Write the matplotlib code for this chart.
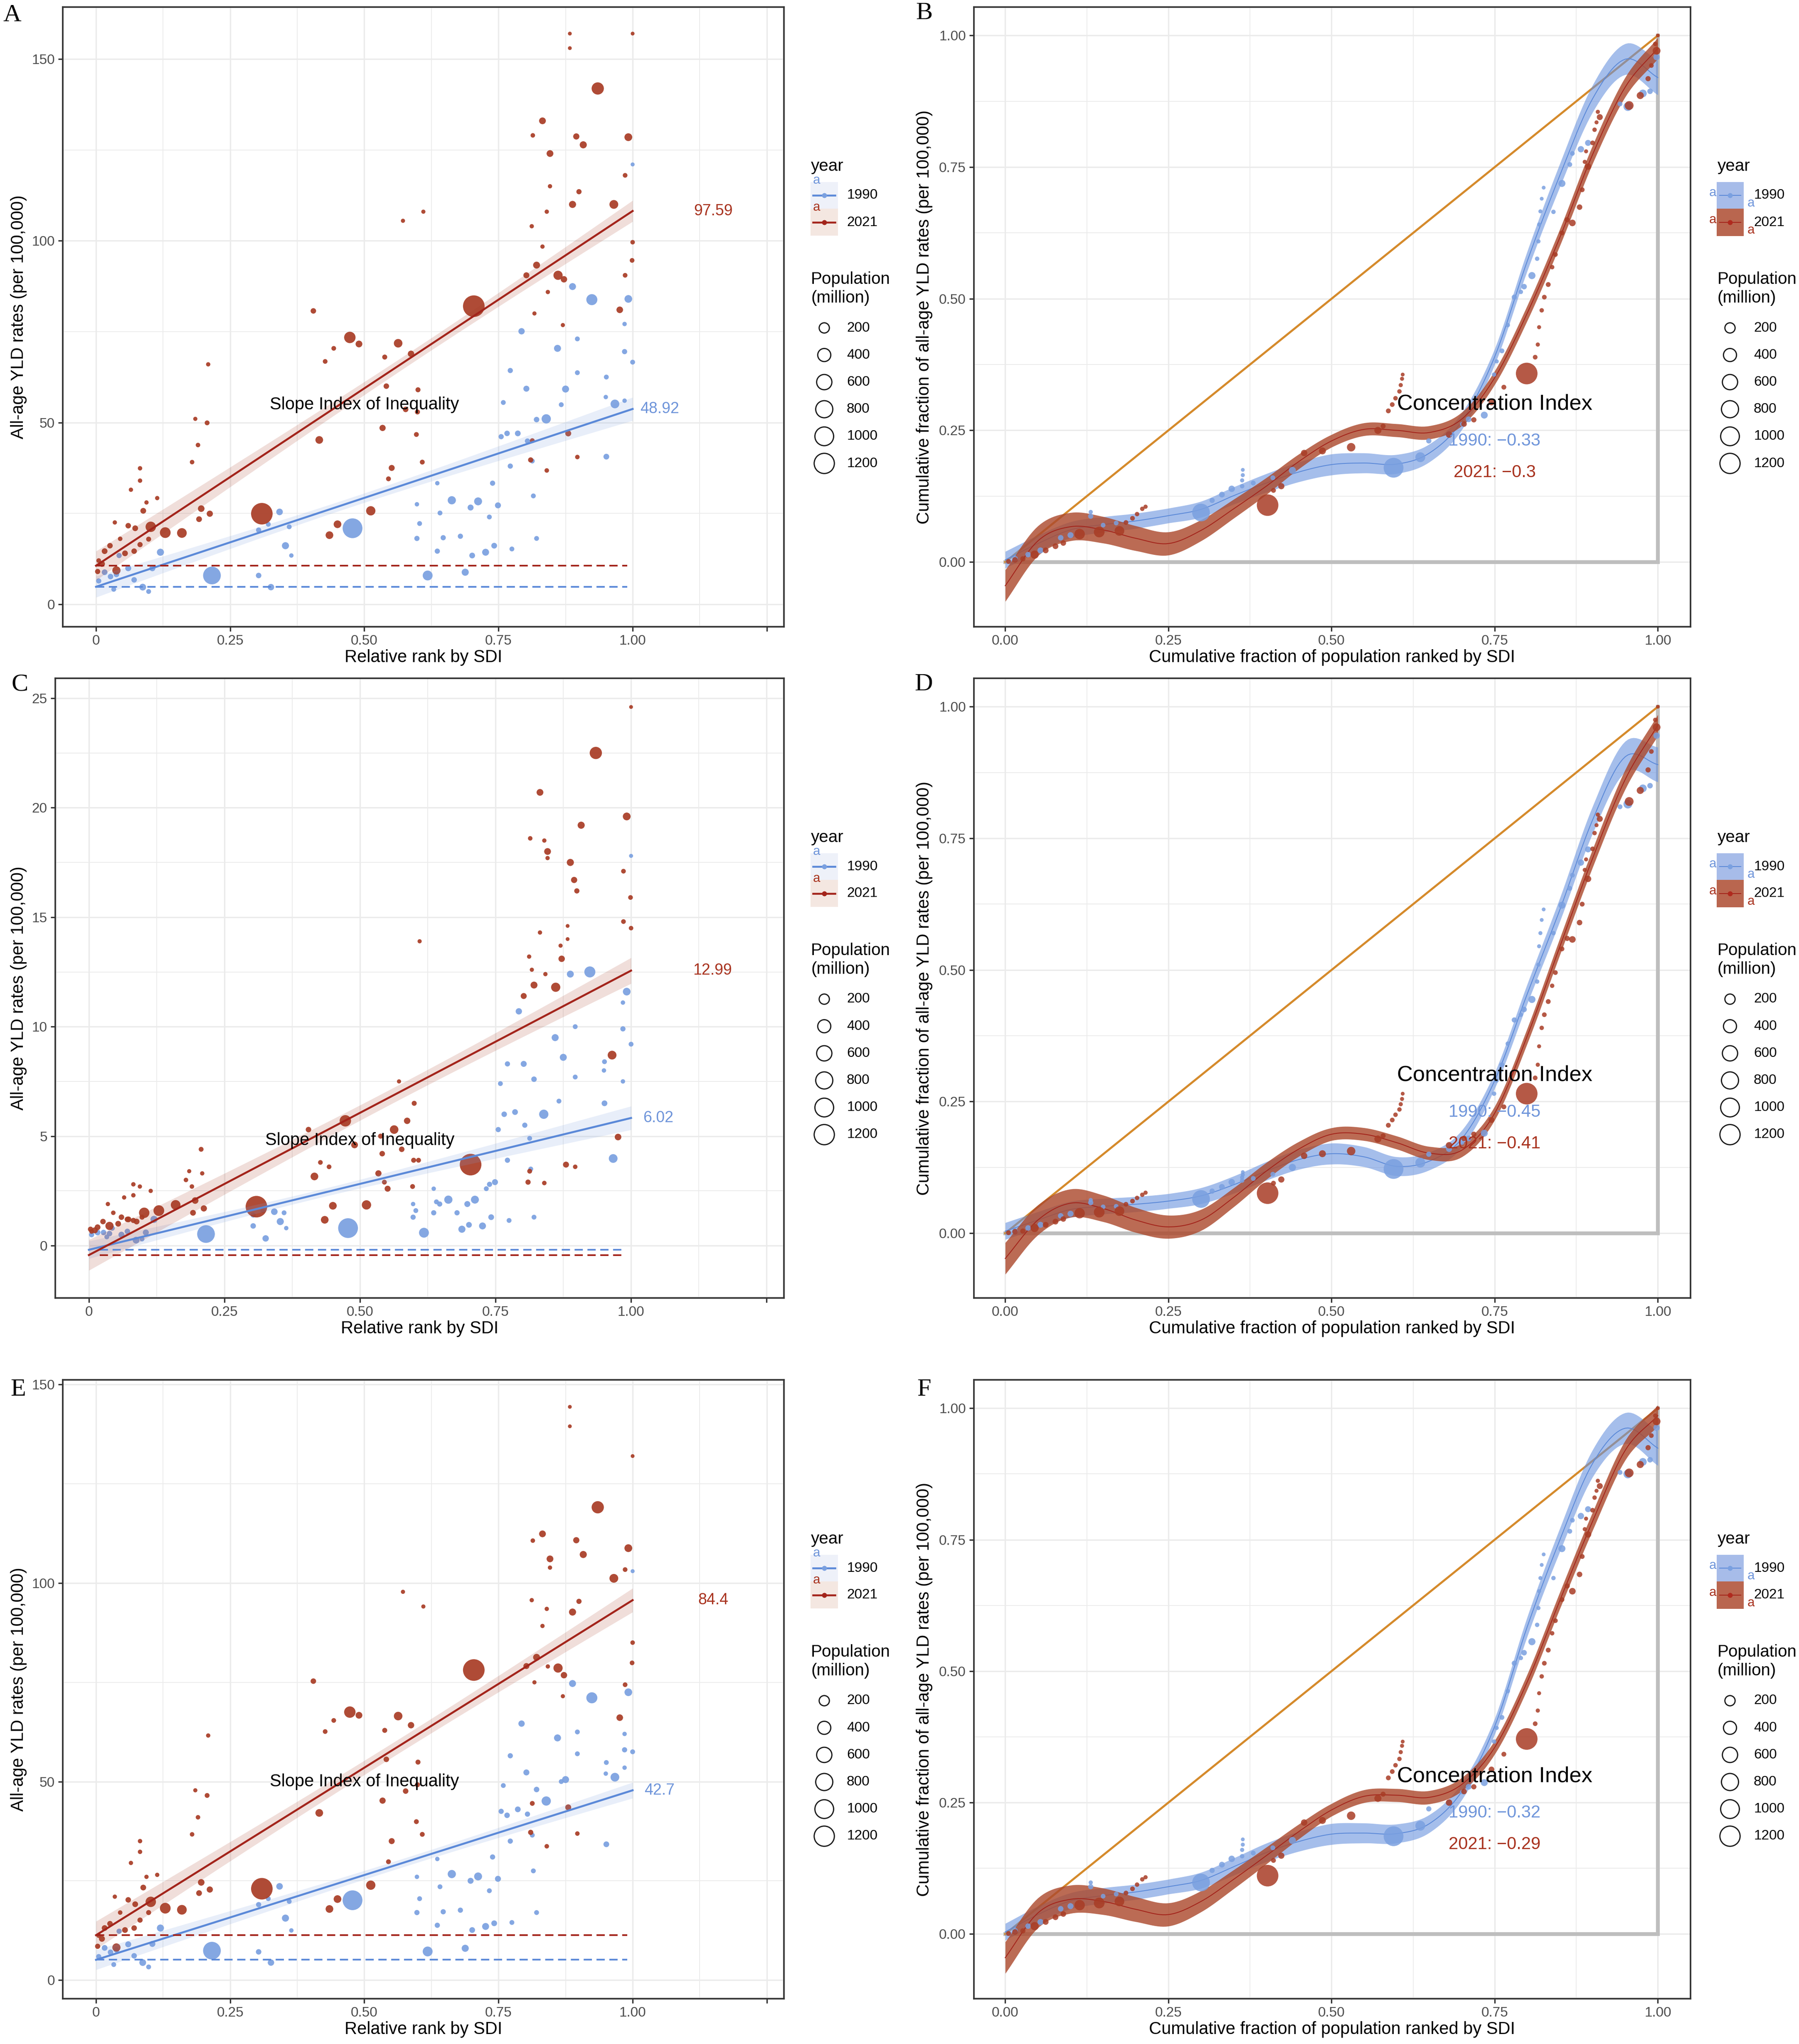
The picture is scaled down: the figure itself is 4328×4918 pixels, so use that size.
#-*- coding: utf-8 -*-
# Slope index (A, C, E) and concentration curves (B, D, F), 1990 vs 2021
import numpy as np
import matplotlib
matplotlib.use('Agg')
import matplotlib.pyplot as plt
from matplotlib.patches import Rectangle

plt.rcParams['font.family'] = ['Liberation Sans', 'DejaVu Sans']

W, H, DPI = 4328, 4918, 300

######################## DADOS ########################
# --- slope index: pontos de 1990 (rank, pop, taxa em A, C, E)
rk90 = [0.478, 0.216, 0.924, 0.992, 0.967, 0.839, 0.888, 0.860, 0.875, 0.793,
        0.802, 0.951, 0.618, 0.688, 0.663, 0.712, 0.726, 0.698, 0.749, 0.742,
        0.701, 0.353, 0.342, 0.326, 0.303, 0.303, 0.321, 0.360, 0.120, 0.087,
        0.105, 0.060, 0.071, 0.038, 0.043, 0.027, 0.016, 0.005, 0.033, 0.098,
        0.786, 0.766, 0.759, 0.772, 0.821, 0.813, 0.815, 0.821, 0.739, 0.772,
        0.755, 0.804, 0.897, 0.897, 0.867, 0.985, 1.000, 0.951, 1.000, 0.985,
        0.598, 0.636, 0.647, 0.641, 0.636, 0.679, 0.603, 0.598, 0.775, 0.364,
        0.733, 0.985, 0.950]
pop90 = [1140, 870, 250, 80, 123, 148, 55, 57, 57, 38,
         30, 25, 180, 60, 100, 90, 55, 30, 30, 25,
         25, 60, 45, 40, 20, 15, 10, 10, 60, 50,
         30, 30, 20, 20, 15, 20, 25, 15, 10, 10,
         25, 20, 10, 15, 20, 10, 10, 10, 15, 15,
         15, 15, 10, 10, 10, 15, 10, 10, 2, 5,
         15, 15, 15, 10, 5, 15, 10, 5, 10, 5,
         10, 5, 5]
yA90 = [20.9, 7.9, 83.8, 84.0, 55.1, 51.0, 87.4, 70.4, 59.2, 75.1,
        59.3, 40.6, 7.9, 8.8, 28.6, 28.3, 14.3, 26.6, 27.2, 16.1,
        13.4, 16.1, 25.4, 4.7, 7.9, 20.4, 22.0, 21.3, 14.3, 4.7,
        9.9, 9.9, 6.7, 8.2, 13.4, 7.6, 8.8, 6.4, 4.1, 3.5,
        47.0, 47.0, 55.5, 64.3, 50.8, 39.4, 29.8, 18.1, 33.3, 38.0,
        46.1, 44.9, 63.7, 73.0, 54.9, 69.5, 66.6, 62.5, 121.0, 77.1,
        18.1, 14.6, 18.3, 25.1, 33.3, 18.7, 22.2, 27.5, 15.2, 13.4,
        24.0, 56.0, 57.0]
yC90 = [0.80, 0.53, 12.5, 11.6, 3.98, 6.0, 12.4, 9.5, 8.6, 10.7,
        8.3, 6.5, 0.59, 0.75, 2.1, 2.1, 0.9, 1.9, 2.9, 1.3,
        0.95, 1.1, 1.55, 0.33, 0.9, 1.4, 1.6, 1.5, 1.2, 0.25,
        0.6, 0.5, 0.65, 0.55, 0.8, 0.6, 0.6, 0.5, 0.4, 0.3,
        6.1, 6.0, 7.4, 8.3, 7.6, 4.9, 3.5, 1.3, 2.8, 3.9,
        5.3, 5.5, 7.7, 10.0, 6.6, 9.9, 9.2, 8.4, 17.8, 11.1,
        1.3, 1.5, 1.9, 2.0, 2.6, 1.5, 1.6, 1.9, 1.15, 0.8,
        2.6, 7.5, 8.0]
yE90 = [20.1, 7.4, 71.1, 72.5, 51.1, 45.1, 74.7, 61.0, 50.5, 64.6,
        52.3, 34.2, 7.2, 8.0, 26.7, 26.1, 13.5, 25.0, 25.5, 14.3,
        12.6, 15.6, 23.6, 4.4, 7.1, 19.0, 20.5, 19.8, 13.1, 4.4,
        9.1, 9.0, 6.1, 7.6, 12.3, 7.0, 8.1, 5.9, 3.9, 3.3,
        43.0, 41.5, 49.0, 56.5, 48.0, 36.5, 27.5, 17.0, 31.0, 35.0,
        42.5, 41.8, 57.0, 62.5, 50.0, 58.0, 57.5, 54.8, 103.0, 62.0,
        17.0, 13.8, 17.2, 23.5, 30.5, 17.6, 20.5, 26.0, 14.5, 12.5,
        22.5, 53.5, 52.0]

# --- slope index: pontos de 2021
rk21 = [0.935, 0.704, 0.309, 0.473, 0.490, 0.563, 0.587, 0.965, 0.992, 0.861,
        0.802, 0.821, 0.832, 0.846, 0.895, 0.908, 0.888, 0.900, 0.872, 0.880,
        0.976, 0.986, 1.000, 0.999, 0.986, 0.883, 0.883, 1.000, 0.416, 0.534,
        0.541, 0.435, 0.450, 0.512, 0.551, 0.545, 0.577, 0.599, 0.600, 0.597,
        0.608, 0.572, 0.610, 0.405, 0.427, 0.443, 0.538, 0.160, 0.129, 0.102,
        0.196, 0.212, 0.192, 0.207, 0.209, 0.179, 0.190, 0.185, 0.082, 0.082,
        0.114, 0.065, 0.088, 0.073, 0.060, 0.038, 0.011, 0.016, 0.026, 0.054,
        0.071, 0.082, 0.098, 0.810, 0.813, 0.897, 0.840, 0.814, 0.846, 0.840,
        0.812, 0.832, 0.842, 0.817, 0.870, 0.003, 0.005, 0.045, 0.035, 0.094]
pop21 = [335, 1410, 1400, 275, 50, 115, 40, 125, 84, 145,
         30, 55, 50, 50, 35, 60, 60, 15, 40, 30,
         45, 8, 6, 8, 8, 1, 1, 1, 80, 35,
         20, 80, 80, 150, 30, 10, 20, 12, 12, 10,
         10, 3, 3, 20, 8, 8, 12, 170, 230, 210,
         45, 35, 25, 10, 4, 6, 6, 3, 5, 5,
         4, 4, 25, 25, 20, 100, 30, 25, 20, 25,
         20, 15, 12, 15, 10, 6, 6, 6, 4, 4,
         4, 4, 4, 3, 3, 15, 8, 6, 4, 4]
yA21 = [141.9, 82.0, 24.9, 73.4, 71.6, 71.8, 68.9, 110.0, 128.5, 90.5,
        90.5, 93.3, 133.0, 124.0, 128.7, 126.4, 110.0, 113.5, 89.4, 47.0,
        81.0, 118.0, 99.6, 94.6, 90.5, 157.0, 153.0, 157.0, 45.2, 48.5,
        60.0, 19.0, 22.0, 25.7, 37.5, 34.5, 53.6, 52.9, 59.0, 46.7,
        39.1, 105.5, 108.0, 80.7, 66.8, 70.4, 68.0, 19.6, 19.7, 21.3,
        26.3, 24.9, 23.4, 49.9, 66.0, 39.1, 43.8, 51.0, 37.4, 34.0,
        29.2, 31.5, 25.7, 20.9, 21.6, 9.3, 11.1, 14.6, 16.1, 14.0,
        14.6, 16.4, 17.9, 39.7, 45.0, 40.5, 36.8, 129.0, 115.0, 108.0,
        104.0, 98.4, 85.9, 80.0, 76.8, 9.0, 12.0, 18.0, 22.5, 28.0]
yC21 = [22.5, 3.7, 1.78, 5.7, 4.6, 5.3, 5.7, 8.7, 19.6, 11.8,
        11.4, 11.9, 20.7, 18.0, 16.7, 19.2, 17.5, 16.2, 13.1, 3.7,
        4.96, 17.1, 14.5, 15.9, 14.8, 14.6, 14.0, 24.6, 3.16, 3.3,
        4.2, 1.18, 1.82, 1.86, 2.6, 2.9, 4.4, 3.9, 6.5, 2.7,
        3.9, 7.5, 13.9, 5.3, 3.8, 3.6, 5.0, 1.86, 1.6, 1.5,
        2.06, 1.7, 1.5, 4.4, 3.3, 3.0, 2.7, 3.4, 2.3, 2.8,
        2.5, 2.2, 1.1, 1.2, 1.3, 0.9, 0.7, 0.84, 1.1, 1.0,
        1.2, 1.15, 1.3, 2.9, 3.4, 3.6, 2.86, 18.6, 17.7, 18.5,
        13.2, 14.3, 12.4, 12.6, 13.7, 0.75, 0.65, 1.5, 1.9, 2.7]
yE21 = [119.1, 78.1, 23.0, 67.5, 66.7, 66.5, 64.2, 101.2, 108.8, 78.6,
        79.1, 81.3, 112.4, 106.1, 110.8, 107.2, 92.7, 95.4, 76.8, 43.5,
        66.1, 103.4, 85.0, 79.9, 74.4, 144.4, 139.5, 132.0, 42.1, 45.2,
        55.6, 17.9, 20.4, 23.9, 35.0, 29.8, 47.6, 49.2, 54.9, 39.9,
        36.7, 97.8, 94.1, 75.3, 62.6, 65.4, 62.9, 17.7, 18.1, 19.7,
        24.6, 22.8, 21.9, 46.5, 61.6, 36.7, 41.0, 47.8, 35.0, 32.3,
        26.5, 29.5, 23.3, 19.1, 20.2, 8.2, 10.4, 13.1, 14.2, 12.6,
        13.1, 15.1, 17.0, 37.2, 44.5, 36.9, 33.7, 110.7, 103.9, 93.5,
        95.7, 89.2, 79.0, 75.0, 71.5, 8.5, 11.2, 17.0, 21.0, 26.0]

# regressao (intercepto, SII) e meia largura do IC em x = 0, 0.5, 1
fitA = {'1990': (4.8, 48.92), '2021': (10.6, 97.59)}
fitC = {'1990': (-0.19, 6.02), '2021': (-0.43, 12.99)}
fitE = {'1990': (5.1, 42.7), '2021': (11.3, 84.4)}
hwA = {'1990': (2.9, 1.3, 3.2), '2021': (4.0, 1.8, 2.9)}
hwC = {'1990': (0.40, 0.20, 0.54), '2021': (0.70, 0.35, 0.59)}
hwE = {'1990': (2.5, 1.1, 2.0), '2021': (3.5, 1.8, 3.0)}

# --- curvas de concentracao: pontos (fracao acumulada pop, fracao acumulada YLD)
cx21 = [0.799, 0.402, 0.530, 0.571, 0.486, 0.458, 0.423, 0.411, 0.869, 0.956,
        0.973, 0.998, 0.911, 0.893, 0.880, 0.175, 0.144, 0.114, 0.045, 0.680,
        0.703, 0.718, 0.745, 0.764, 0.579, 0.587, 0.593, 0.598, 0.604, 0.606,
        0.608, 0.609, 0.812, 0.816, 0.818, 0.822, 0.826, 0.832, 0.838, 0.843,
        0.853, 0.861, 0.884, 0.900, 0.903, 0.985, 0.990, 0.996, 1.000, 0.015,
        0.027, 0.062, 0.077, 0.089, 0.185, 0.195, 0.202, 0.210, 0.215, 0.005,
        0.888, 0.890, 0.906, 0.908]
cp21 = [1410, 1400, 110, 60, 55, 40, 35, 10, 45, 125,
        60, 84, 30, 40, 20, 170, 230, 210, 100, 40,
        20, 15, 25, 10, 12, 10, 8, 6, 5, 3,
        2, 1, 8, 3, 2, 5, 8, 10, 5, 8,
        10, 15, 10, 8, 5, 15, 8, 5, 1, 20,
        15, 25, 25, 20, 8, 8, 5, 5, 3, 10,
        3, 2, 2, 3]
ciB21 = [0.358, 0.108, 0.218, 0.250, 0.211, 0.207, 0.144, 0.136, 0.644, 0.867,
         0.886, 0.971, 0.845, 0.751, 0.674, 0.059, 0.057, 0.053, 0.014, 0.242,
         0.262, 0.270, 0.303, 0.332, 0.258, 0.287, 0.299, 0.311, 0.324, 0.336,
         0.348, 0.356, 0.389, 0.413, 0.446, 0.478, 0.503, 0.527, 0.560, 0.584,
         0.625, 0.650, 0.707, 0.796, 0.821, 0.918, 0.943, 0.984, 1.000, 0.004,
         0.006, 0.022, 0.030, 0.036, 0.075, 0.083, 0.091, 0.101, 0.105, 0.001,
         0.760, 0.780, 0.835, 0.855]
ciD21 = [0.265, 0.076, 0.156, 0.179, 0.151, 0.147, 0.102, 0.095, 0.558, 0.820,
         0.841, 0.961, 0.787, 0.673, 0.590, 0.042, 0.040, 0.038, 0.010, 0.167,
         0.180, 0.188, 0.215, 0.240, 0.185, 0.205, 0.215, 0.225, 0.235, 0.245,
         0.255, 0.265, 0.295, 0.320, 0.355, 0.390, 0.415, 0.440, 0.470, 0.495,
         0.540, 0.560, 0.625, 0.730, 0.760, 0.880, 0.915, 0.975, 1.000, 0.003,
         0.004, 0.016, 0.022, 0.027, 0.055, 0.061, 0.067, 0.073, 0.077, 0.001,
         0.690, 0.710, 0.775, 0.795]
ciF21 = [0.371, 0.111, 0.225, 0.258, 0.216, 0.212, 0.149, 0.140, 0.652, 0.877,
         0.893, 0.975, 0.852, 0.760, 0.684, 0.062, 0.059, 0.055, 0.015, 0.250,
         0.271, 0.280, 0.313, 0.342, 0.266, 0.297, 0.309, 0.321, 0.333, 0.346,
         0.358, 0.366, 0.400, 0.425, 0.458, 0.490, 0.515, 0.540, 0.572, 0.596,
         0.636, 0.662, 0.718, 0.806, 0.830, 0.925, 0.948, 0.986, 1.000, 0.004,
         0.006, 0.023, 0.032, 0.038, 0.078, 0.086, 0.094, 0.104, 0.108, 0.001,
         0.770, 0.790, 0.843, 0.862]

cx90 = [0.595, 0.300, 0.636, 0.440, 0.853, 0.882, 0.893, 0.807, 0.795, 0.780,
        0.761, 0.734, 0.710, 0.680, 0.649, 0.954, 0.977, 0.998, 0.347, 0.332,
        0.317, 0.363, 0.363, 0.364, 0.364, 0.131, 0.131, 0.100, 0.085, 0.054,
        0.015, 0.035, 0.815, 0.817, 0.818, 0.820, 0.822, 0.825, 0.749, 0.753,
        0.865, 0.869, 0.942, 0.988, 0.150, 0.170, 0.380, 0.410, 0.700, 0.770,
        0.790, 0.840]
cp90 = [1140, 870, 180, 60, 57, 38, 30, 60, 20, 15,
        10, 55, 25, 30, 15, 123, 80, 40, 40, 25,
        15, 5, 3, 2, 1, 15, 3, 30, 20, 30,
        25, 20, 5, 3, 2, 2, 1, 1, 5, 3,
        10, 8, 10, 20, 8, 8, 10, 10, 5, 5,
        5, 5]
ciB90 = [0.179, 0.094, 0.199, 0.174, 0.719, 0.784, 0.796, 0.544, 0.523, 0.503,
         0.401, 0.279, 0.271, 0.242, 0.230, 0.865, 0.890, 0.959, 0.139, 0.128,
         0.117, 0.144, 0.155, 0.165, 0.175, 0.087, 0.095, 0.051, 0.046, 0.022,
         0.006, 0.014, 0.576, 0.609, 0.641, 0.666, 0.690, 0.711, 0.356, 0.381,
         0.755, 0.776, 0.870, 0.894, 0.070, 0.074, 0.150, 0.160, 0.262, 0.450,
         0.513, 0.665]
ciD90 = [0.122, 0.065, 0.134, 0.125, 0.623, 0.704, 0.729, 0.444, 0.425, 0.405,
         0.320, 0.190, 0.180, 0.160, 0.150, 0.815, 0.845, 0.945, 0.097, 0.088,
         0.080, 0.100, 0.106, 0.111, 0.116, 0.058, 0.063, 0.037, 0.033, 0.016,
         0.004, 0.010, 0.478, 0.510, 0.545, 0.570, 0.595, 0.615, 0.265, 0.290,
         0.655, 0.680, 0.810, 0.850, 0.050, 0.051, 0.104, 0.112, 0.172, 0.360,
         0.415, 0.570]
ciF90 = [0.186, 0.098, 0.206, 0.178, 0.733, 0.795, 0.808, 0.556, 0.535, 0.515,
         0.412, 0.288, 0.280, 0.250, 0.238, 0.875, 0.898, 0.963, 0.143, 0.132,
         0.121, 0.148, 0.160, 0.170, 0.180, 0.090, 0.098, 0.053, 0.048, 0.023,
         0.006, 0.015, 0.588, 0.620, 0.652, 0.677, 0.702, 0.722, 0.366, 0.392,
         0.766, 0.787, 0.878, 0.902, 0.072, 0.076, 0.154, 0.164, 0.270, 0.462,
         0.525, 0.677]

# curvas suavizadas (x = 0, 0.05, ..., 1)
cq = [0.00, 0.05, 0.10, 0.15, 0.20, 0.25, 0.30, 0.35, 0.40, 0.45, 0.50,
      0.55, 0.60, 0.65, 0.70, 0.75, 0.80, 0.85, 0.90, 0.95, 1.00]
curB90 = [0.004, 0.035, 0.061, 0.071, 0.078, 0.088, 0.100, 0.126, 0.150, 0.171, 0.185,
          0.188, 0.186, 0.207, 0.268, 0.390, 0.572, 0.735, 0.880, 0.955, 0.920]
curB21 = [-0.045, 0.040, 0.067, 0.061, 0.045, 0.035, 0.060, 0.101, 0.144, 0.191, 0.230,
          0.252, 0.250, 0.246, 0.272, 0.350, 0.473, 0.617, 0.774, 0.902, 0.976]
curD90 = [0.004, 0.025, 0.045, 0.051, 0.055, 0.061, 0.071, 0.092, 0.118, 0.140, 0.151,
          0.145, 0.127, 0.137, 0.180, 0.290, 0.455, 0.615, 0.785, 0.905, 0.890]
curD21 = [-0.048, 0.025, 0.057, 0.047, 0.025, 0.012, 0.025, 0.068, 0.118, 0.160, 0.188,
          0.188, 0.172, 0.152, 0.158, 0.228, 0.375, 0.545, 0.712, 0.862, 0.965]
curF90 = [0.004, 0.037, 0.063, 0.073, 0.080, 0.090, 0.102, 0.128, 0.155, 0.176, 0.190,
          0.192, 0.191, 0.210, 0.272, 0.395, 0.585, 0.750, 0.895, 0.962, 0.924]
curF21 = [-0.045, 0.040, 0.066, 0.062, 0.047, 0.037, 0.062, 0.104, 0.149, 0.195, 0.236,
          0.262, 0.264, 0.260, 0.285, 0.355, 0.480, 0.635, 0.785, 0.920, 0.986]
hq = [0.0, 0.25, 0.5, 0.75, 1.0]
chw90 = [0.016, 0.014, 0.020, 0.015, 0.033]
chw21 = [0.030, 0.022, 0.012, 0.013, 0.020]

ciLab = {'B': ('1990: \u22120.33', '2021: \u22120.3'),
         'D': ('1990: \u22120.45', '2021: \u22120.41'),
         'F': ('1990: \u22120.32', '2021: \u22120.29')}
legPop = [200, 400, 600, 800, 1000, 1200]
#######################################################

# cores
c90, c21 = '#7aa0e0', '#a83c25'
l90, l21 = '#5b89d8', '#a3241b'
t90, t21 = '#6f95da', '#a8321e'
GRID = '#ebebeb'


def psize(p):
    d = 8 + 44 * np.sqrt(np.asarray(p, float) / 1410.)
    return (d * 72. / DPI) ** 2


def banda(xx, hw):
    coef = np.polyfit([0, 0.5, 1], np.array(hw) ** 2, 2)
    return np.sqrt(np.clip(np.polyval(coef, xx), 1e-9, None))


def suave(xk, yk, n=12):
    # spline Catmull-Rom pelos valores lidos
    P = np.column_stack([xk, yk]).astype(float)
    P = np.vstack([2 * P[0] - P[1], P, 2 * P[-1] - P[-2]])
    t = np.linspace(0, 1, n, endpoint=False)[:, None]
    seg = []
    for i in range(1, len(P) - 2):
        p0, p1, p2, p3 = P[i - 1], P[i], P[i + 1], P[i + 2]
        seg.append(0.5 * (2 * p1 + (-p0 + p2) * t + (2 * p0 - 5 * p1 + 4 * p2 - p3) * t ** 2
                          + (-p0 + 3 * p1 - 3 * p2 + p3) * t ** 3))
    seg.append(P[-2][None, :])
    out = np.vstack(seg)
    return out[:, 0], out[:, 1]


def estilo(ax, xmaj, xmin, ymaj, ymin):
    ax.set_xticks(xmaj)
    ax.set_xticks(xmin, minor=True)
    ax.set_yticks(ymaj)
    ax.set_yticks(ymin, minor=True)
    ax.grid(which='major', color=GRID, lw=0.8)
    ax.grid(which='minor', color=GRID, lw=0.45)
    ax.set_axisbelow(True)
    ax.tick_params(which='major', length=2.6, width=0.8, color='#333333',
                   labelsize=8, labelcolor='#4d4d4d', pad=2)
    ax.tick_params(which='minor', length=0)
    for s in ax.spines.values():
        s.set_color('#333333')
        s.set_linewidth(0.9)


def painel_sii(ax, ylim, ymaj, ymin, y90, y21, fit, hw, dx0, ysl, ylx):
    ax.set_xlim(-0.062, 1.282)
    ax.set_ylim(*ylim)
    estilo(ax, [0, 0.25, 0.5, 0.75, 1.0, 1.25], [0.125, 0.375, 0.625, 0.875, 1.125],
           ymaj, ymin)
    ax.set_xticklabels(['0', '0.25', '0.50', '0.75', '1.00', ''])
    ax.set_yticklabels([str(v) for v in ymaj])
    ax.scatter(rk90, y90, s=psize(pop90), color=c90, alpha=0.92, lw=0, zorder=2)
    ax.scatter(rk21, y21, s=psize(pop21), color=c21, alpha=0.92, lw=0, zorder=2)
    xx = np.linspace(0, 1, 101)
    for ano, pc, lc, tc, xl in (('1990', c90, l90, t90, 1.05), ('2021', c21, l21, t21, 1.15)):
        a, b = fit[ano]
        yy = a + b * xx
        h = banda(xx, hw[ano])
        ax.fill_between(xx, yy - h, yy + h, color=pc, alpha=0.17, lw=0, zorder=3)
        ax.plot(xx, yy, color=lc, lw=1.15, zorder=4)
        ax.plot([dx0, 0.99], [a, a], color=lc, lw=0.95, ls=(0, (5, 2.8)), zorder=4)
        ax.text(xl, a + b, ('%g' % b), color=tc, fontsize=9, ha='center', va='center')
    ax.text(0.5, ysl, 'Slope Index of Inequality', fontsize=10, ha='center', va='center',
            zorder=5)
    ax.set_xlabel('Relative rank by SDI', fontsize=10)
    ax.set_ylabel('All-age YLD rates (per 100,000)', fontsize=10)
    ax.xaxis.set_label_coords(0.5, -0.036)
    ax.yaxis.set_label_coords(ylx, 0.5)


def painel_ci(ax, cur90, cur21, y90, y21, labs):
    ax.set_xlim(-0.048, 1.05)
    ax.set_ylim(-0.123, 1.054)
    tk = [0, 0.25, 0.5, 0.75, 1.0]
    mn = [0.125, 0.375, 0.625, 0.875]
    estilo(ax, tk, mn, tk, mn)
    ax.set_xticklabels(['0.00', '0.25', '0.50', '0.75', '1.00'])
    ax.set_yticklabels(['0.00', '0.25', '0.50', '0.75', '1.00'])
    ax.plot([0, 1, 1], [0, 0, 1], color='#bebebe', lw=2.2, zorder=1,
            solid_joinstyle='miter')
    ax.plot([0, 1], [0, 1], color='#d58a2b', lw=1.2, zorder=1.5)
    for cur, hw, fc, al, lc, z in ((cur90, chw90, '#6a93de', 0.6, l90, 2.0),
                                   (cur21, chw21, '#ac4a2e', 0.82, l21, 2.2)):
        xx, yy = suave(cq, cur)
        h = np.interp(xx, hq, hw)
        ax.fill_between(xx, yy - h, yy + h, color=fc, alpha=al, lw=0, zorder=z)
        ax.plot(xx, yy, color=lc, lw=0.5, zorder=z + 0.05)
    ax.scatter(cx90, y90, s=psize(cp90), color=c90, alpha=0.85, lw=0, zorder=3)
    ax.scatter(cx21, y21, s=psize(cp21), color=c21, alpha=0.85, lw=0, zorder=3.1)
    ax.text(0.75, 0.30, 'Concentration Index', fontsize=12.6, ha='center', va='center',
            zorder=5)
    ax.text(0.75, 0.23, labs[0], fontsize=10, color=t90, ha='center', va='center', zorder=5)
    ax.text(0.75, 0.17, labs[1], fontsize=10, color=t21, ha='center', va='center', zorder=5)
    ax.set_xlabel('Cumulative fraction of population ranked by SDI', fontsize=10)
    ax.set_ylabel('Cumulative fraction of all-age YLD rates (per 100,000)', fontsize=10)
    ax.xaxis.set_label_coords(0.5, -0.036)
    ax.yaxis.set_label_coords(-0.0575, 0.5)


fig = plt.figure(figsize=(W / DPI, H / DPI), dpi=DPI)


def caixa(l, t, r, b):
    return [l / W, 1 - b / H, (r - l) / W, (b - t) / H]


axA = fig.add_axes(caixa(151, 17, 1886, 1508))
axB = fig.add_axes(caixa(2343, 17, 4067, 1508))
axC = fig.add_axes(caixa(133, 1632, 1886, 3123))
axD = fig.add_axes(caixa(2343, 1632, 4067, 3123))
axE = fig.add_axes(caixa(151, 3320, 1886, 4809))
axF = fig.add_axes(caixa(2343, 3320, 4067, 4809))

painel_sii(axA, (-6.2, 164.3), [0, 50, 100, 150], [25, 75, 125], yA90, yA21,
           fitA, hwA, 0.0, 54.9, -0.0496)
painel_sii(axC, (-2.39, 25.91), [0, 5, 10, 15, 20, 25], [2.5, 7.5, 12.5, 17.5, 22.5],
           yC90, yC21, fitC, hwC, 0.02, 4.8, -0.0388)
painel_sii(axE, (-4.7, 151.2), [0, 50, 100, 150], [25, 75, 125], yE90, yE21,
           fitE, hwE, 0.0, 50.0, -0.0496)
painel_ci(axB, curB90, curB21, ciB90, ciB21, ciLab['B'])
painel_ci(axD, curD90, curD21, ciD90, ciD21, ciLab['D'])
painel_ci(axF, curF90, curF21, ciF90, ciF21, ciLab['F'])

# ---------- legendas e letras (coordenadas em pixels) ----------
ov = fig.add_axes([0, 0, 1, 1], facecolor='none')
ov.set_xlim(0, W)
ov.set_ylim(H, 0)
ov.axis('off')


def legenda(R, T, tipo):
    ov.text(R + 65, T + 383, 'year', fontsize=9.7, ha='left', va='center')
    if tipo == 'sii':
        ov.add_patch(Rectangle((R + 64, T + 421), 66, 64, fc='#eef1f9', ec='none'))
        ov.add_patch(Rectangle((R + 64, T + 485), 66, 65, fc='#f4e7e1', ec='none'))
        for yk, lc, pc, tc in ((T + 453, l90, c90, t90), (T + 518, l21, l21, t21)):
            ov.plot([R + 70, R + 123], [yk, yk], color=lc, lw=1.1)
            ov.scatter([R + 97], [yk], s=(12 * 72. / DPI) ** 2, color=pc, lw=0, zorder=3)
            ov.text(R + 78, yk - 36, 'a', color=tc, fontsize=7.5, ha='center', va='center')
        xc, xt = R + 97, R + 151
    else:
        ov.add_patch(Rectangle((R + 63, T + 421), 65, 64, fc='#a7bce9', ec='none'))
        ov.add_patch(Rectangle((R + 63, T + 485), 65, 66, fc='#b9664f', ec='none'))
        for yk, lc, pc, tc in ((T + 453, l90, c90, t90), (T + 518, l21, '#b02a1e', t21)):
            ov.plot([R + 70, R + 121], [yk, yk], color=lc, lw=0.5)
            ov.scatter([R + 95], [yk], s=(12 * 72. / DPI) ** 2, color=pc, lw=0, zorder=3)
            ov.text(R + 53, yk - 6, 'a', color=tc, fontsize=7.5, ha='center', va='center')
            ov.text(R + 145, yk + 19, 'a', color=tc, fontsize=7.5, ha='center', va='center')
        xc, xt = R + 95, R + 152
    ov.text(xt, T + 453, '1990', fontsize=8, ha='left', va='center')
    ov.text(xt, T + 518, '2021', fontsize=8, ha='left', va='center')
    ov.text(R + 65, T + 655, 'Population', fontsize=9.7, ha='left', va='center')
    ov.text(R + 65, T + 700, '(million)', fontsize=9.7, ha='left', va='center')
    for i, p in enumerate(legPop):
        yk = T + 772 + 65.2 * i
        ov.scatter([xc], [yk], s=psize(p), facecolors='none', edgecolors='#1a1a1a', lw=0.7)
        ov.text(xt, yk, str(p), fontsize=8, ha='left', va='center')


for R, T, tipo in ((1886, 17, 'sii'), (4067, 17, 'ci'), (1886, 1632, 'sii'),
                   (4067, 1632, 'ci'), (1886, 3320, 'sii'), (4067, 3320, 'ci')):
    legenda(R, T, tipo)

for letra, x, y in (('A', 7, 10), ('B', 2203, 5), ('C', 28, 1620), ('D', 2200, 1620),
                    ('E', 25, 3317), ('F', 2206, 3317)):
    ov.text(x, y, letra, fontsize=14.5, family='Liberation Serif', ha='left', va='top')

fig.savefig('out.png', dpi=DPI)
